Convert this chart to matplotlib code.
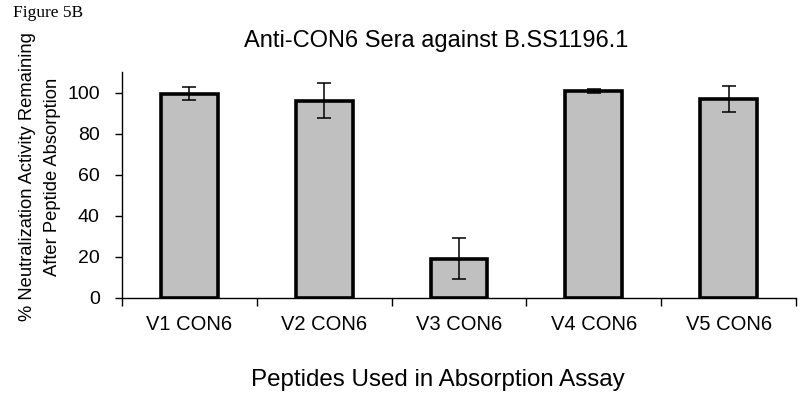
import matplotlib
matplotlib.use("Agg")
import matplotlib.pyplot as plt
import numpy as np

categories = ["V1 CON6", "V2 CON6", "V3 CON6", "V4 CON6", "V5 CON6"]
values = [99.5, 96.0, 19.0, 100.8, 97.0]
errors = [3.3, 8.5, 10.0, 0.8, 6.4]
yticks = [0, 20, 40, 60, 80, 100]

plt.rcParams['font.family'] = ['Liberation Sans', 'DejaVu Sans']

fig = plt.figure(figsize=(8, 4.01), dpi=100)
ax = fig.add_axes([0.1525, 0.2569, 0.8425, 0.5635])

x = np.arange(len(categories))
ax.bar(x, values, width=0.42, color='#c0c0c0', edgecolor='black', linewidth=2.6, zorder=2)
ax.errorbar(x, values, yerr=errors, fmt='none', ecolor='black', elinewidth=1.1,
            capsize=5, capthick=1.1, zorder=3)

ax.set_xlim(-0.5, len(categories) - 0.5)
ax.set_ylim(0, 110)
ax.set_yticks(yticks)
ax.set_yticklabels([str(t) for t in yticks], fontsize=14)
ax.set_xticks(np.arange(-0.5, len(categories), 1.0))
ax.set_xticklabels([])
ax.set_xticks(x, minor=True)
ax.set_xticklabels(categories, minor=True, fontsize=14.5)
ax.tick_params(axis='x', which='minor', length=0, pad=12)
ax.tick_params(axis='x', which='major', length=6, direction='out', width=1)
ax.tick_params(axis='y', length=5, direction='out', width=1, pad=11)

for s in ['top', 'right']:
    ax.spines[s].set_visible(False)
for s in ['left', 'bottom']:
    ax.spines[s].set_linewidth(1)

fig.text(436 / 800, 1 - 41 / 401, "Anti-CON6 Sera against B.SS1196.1", fontsize=17,
         ha='center', va='center')
fig.text(438 / 800, 1 - 380 / 401, "Peptides Used in Absorption Assay", fontsize=17.4,
         ha='center', va='center')
fig.text(40 / 800, 1 - 177 / 401, "% Neutralization Activity Remaining\nAfter Peptide Absorption",
         fontsize=13.2, rotation=90, ha='center', va='center', linespacing=1.55)

fig.text(13 / 800, 1 - 13 / 401, "Figure 5B", fontsize=12.5, family='Liberation Serif',
         va='center', ha='left')

fig.savefig("out.png", dpi=100)
